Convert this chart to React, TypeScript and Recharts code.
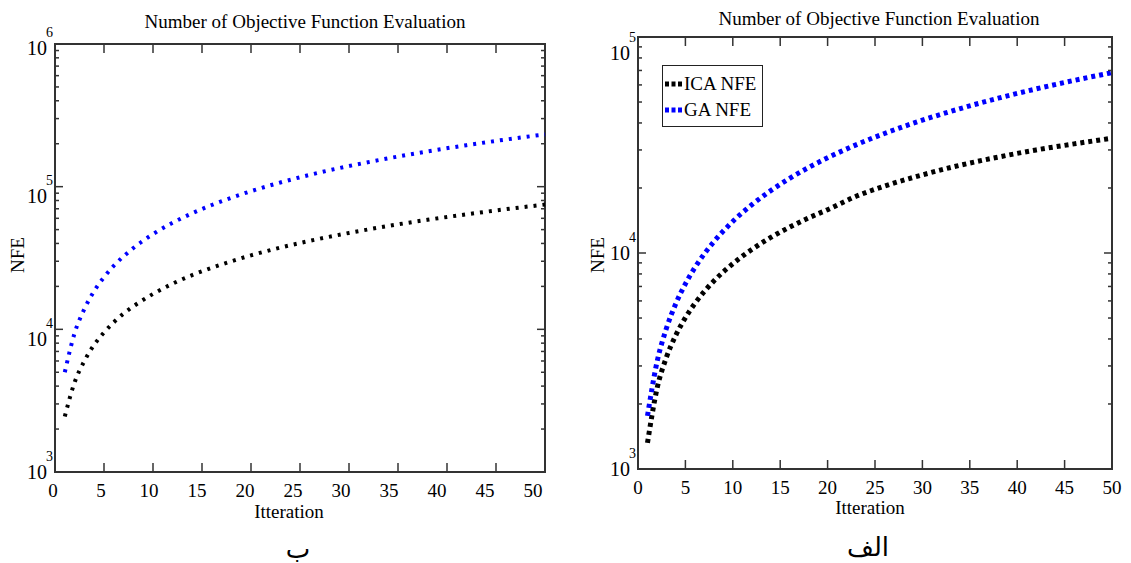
import React from "react";
import { LineChart, Line, XAxis, YAxis, ReferenceArea, Legend } from "recharts";

const FONT = '"Liberation Serif", "Times New Roman", "DejaVu Sans", serif';

const iterations = [1, 2, 3, 4, 5, 6, 7, 8, 10, 12, 14, 16, 18, 20, 23, 26, 30, 34, 38, 42, 46, 50];

// left panel (ب)
const icaNfeB = [2450, 4250, 6000, 7800, 9500, 11200, 12900, 14500, 17700, 20900, 24000, 27000, 30000, 33000, 37400, 41700, 47400, 53000, 58600, 64000, 69500, 74900];
const gaNfeB = [5000, 9400, 13900, 18600, 23200, 27900, 32500, 37200, 46500, 55800, 65100, 74400, 83700, 93000, 107000, 121000, 139500, 158000, 176700, 195300, 214000, 232500];

// right panel (الف)
const icaNfeA = [1320, 2350, 3290, 4170, 5020, 5840, 6640, 7420, 8920, 10380, 11800, 13180, 14540, 15870, 18300, 20400, 23000, 25500, 27800, 30000, 32000, 34000];
const gaNfeA = [1760, 3120, 4480, 5840, 7200, 8560, 9920, 11280, 14000, 16720, 19440, 22160, 24880, 27600, 31680, 35760, 41200, 46640, 52080, 57520, 62960, 68400];

const seriesNames = ["ICA NFE", "GA NFE"];
const xTicks = [0, 5, 10, 15, 20, 25, 30, 35, 40, 45, 50];
const decadesB = [1000, 10000, 100000, 1000000];
const decadesA = [1000, 10000, 100000];
const minorSteps = [2, 3, 4, 5, 6, 7, 8, 9];

const title = "Number of Objective Function Evaluation";

function logTicks(decades: number[]) {
  const out: number[] = [];
  decades.forEach((d, i) => {
    out.push(d);
    if (i < decades.length - 1) minorSteps.forEach((m) => out.push(d * m));
  });
  return out;
}

const dataB = iterations.map((it, i) => ({ iter: it, ica: icaNfeB[i], ga: gaNfeB[i] }));
const dataA = iterations.map((it, i) => ({ iter: it, ica: icaNfeA[i], ga: gaNfeA[i] }));

const FRAME = "#333";
const AXIS_H = 30;
const AXIS_W = 40;

function XTick(props: any) {
  const { x, y, payload, plotH, drift } = props;
  const v = payload.value;
  const inner = v > 0 && v < 50;
  return (
    <g>
      {inner && <line x1={x} y1={y} x2={x} y2={y - 9} stroke={FRAME} strokeWidth={1.5} />}
      {inner && <line x1={x} y1={y - plotH} x2={x} y2={y - plotH + 9} stroke={FRAME} strokeWidth={1.5} />}
      <text x={x + drift(v)} y={y + 25} textAnchor="middle" fontSize={19} fontFamily={FONT} fill="#000">
        {v}
      </text>
    </g>
  );
}

function YTick(props: any) {
  const { x, y, payload, plotW, shift } = props;
  const v = payload.value;
  const lg = Math.log10(v);
  const exp = Math.round(lg);
  const major = Math.abs(lg - exp) < 1e-6;
  const len = major ? 8 : 4;
  const dy = major ? shift[exp] || 0 : 0;
  return (
    <g>
      <line x1={x} y1={y} x2={x + len} y2={y} stroke={FRAME} strokeWidth={1.5} />
      <line x1={x + plotW} y1={y} x2={x + plotW - len} y2={y} stroke={FRAME} strokeWidth={1.5} />
      {major && (
        <text x={x - 8} y={y + dy + 7} textAnchor="end" fontSize={20} fontFamily={FONT} fill="#000">
          10
        </text>
      )}
      {major && (
        <text x={x - 9} y={y + dy - 11} fontSize={14} fontFamily={FONT} fill="#000">
          {exp}
        </text>
      )}
    </g>
  );
}

function NfeLegend(props: any) {
  const items = [...(props.payload || [])].sort(
    (a: any, b: any) => seriesNames.indexOf(a.value) - seriesNames.indexOf(b.value)
  );
  return (
    <div
      style={{
        border: "1.5px solid #222",
        width: 101,
        height: 62,
        background: "#fff",
        boxSizing: "border-box",
        paddingTop: 5,
        paddingLeft: 2,
        fontFamily: FONT,
        fontSize: 19,
        lineHeight: "26px",
        color: "#000",
      }}
    >
      {items.map((it: any) => (
        <div key={it.value} style={{ display: "flex", alignItems: "center", height: 26 }}>
          <svg width={19} height={10}>
            <line x1={0} y1={5} x2={19} y2={5} stroke={it.color} strokeWidth={5} strokeDasharray="4 2.5" />
          </svg>
          <span>{it.value}</span>
        </div>
      ))}
    </div>
  );
}

function Panel(props: any) {
  const { data, decades, width, margin, drift, shift, dash, lineW, withLegend } = props;
  const height = 563;
  const plotLeft = margin.left + AXIS_W;
  const plotW = width - plotLeft - margin.right;
  const plotH = height - margin.top - margin.bottom - AXIS_H;
  const top = decades[decades.length - 1];
  return (
    <LineChart width={width} height={height} data={data} margin={margin}>
      <XAxis
        dataKey="iter"
        type="number"
        domain={[0, 50]}
        ticks={xTicks}
        interval={0}
        height={AXIS_H}
        tickSize={0}
        tickMargin={0}
        axisLine={false}
        tickLine={false}
        tick={(p: any) => <XTick {...p} plotH={plotH} drift={drift} />}
      />
      <YAxis
        scale="log"
        domain={[decades[0], top]}
        allowDataOverflow
        ticks={logTicks(decades)}
        interval={0}
        width={AXIS_W}
        tickSize={0}
        tickMargin={0}
        axisLine={false}
        tickLine={false}
        tick={(p: any) => <YTick {...p} plotW={plotW} shift={shift} />}
      />
      <ReferenceArea x1={0} x2={50} y1={decades[0]} y2={top} fill="none" stroke={FRAME} strokeWidth={2} ifOverflow="visible" />
      {withLegend && (
        <Legend
          layout="vertical"
          align="center"
          verticalAlign="middle"
          content={<NfeLegend />}
          wrapperStyle={{ left: 82, top: 65, width: 101 }}
        />
      )}
      <Line name={seriesNames[0]} dataKey="ica" type="monotone" stroke="#000" strokeWidth={lineW} strokeDasharray={dash} dot={false} isAnimationActive={false} />
      <Line name={seriesNames[1]} dataKey="ga" type="monotone" stroke="#0000ff" strokeWidth={lineW} strokeDasharray={dash} dot={false} isAnimationActive={false} />
    </LineChart>
  );
}

export default function App() {
  return (
    <div style={{ position: "absolute", left: 0, top: 0, width: 1131, height: 563, background: "#fff", overflow: "hidden" }}>
      <div style={{ position: "absolute", left: 0, top: 0 }}>
        <Panel
          data={dataB}
          decades={decadesB}
          width={560}
          margin={{ top: 44, right: 15, bottom: 91 - AXIS_H, left: 55 - AXIS_W }}
          drift={(v: number) => -2 - v * 0.2}
          shift={{ 3: 0, 4: 10, 5: 9, 6: 4 }}
          dash="3 6"
          lineW={4}
          withLegend={false}
        />
      </div>
      <div style={{ position: "absolute", left: 580, top: 0 }}>
        <Panel
          data={dataA}
          decades={decadesA}
          width={551}
          margin={{ top: 37, right: 19, bottom: 94 - AXIS_H, left: 58 - AXIS_W }}
          drift={() => 0}
          shift={{ 3: 0, 4: 0, 5: 16 }}
          dash="4 4"
          lineW={5}
          withLegend={true}
        />
      </div>
      <svg width={1131} height={563} style={{ position: "absolute", left: 0, top: 0, pointerEvents: "none" }} fontFamily={FONT}>
        <text x={305} y={28} textAnchor="middle" fontSize={19}>{title}</text>
        <text x={879} y={25} textAnchor="middle" fontSize={19}>{title}</text>
        <text x={289} y={518} textAnchor="middle" fontSize={19}>Itteration</text>
        <text x={870} y={514} textAnchor="middle" fontSize={19}>Itteration</text>
        <text x={24} y={255} textAnchor="middle" fontSize={19} transform="rotate(-90 24 255)">NFE</text>
        <text x={604} y={255} textAnchor="middle" fontSize={19} transform="rotate(-90 604 255)">NFE</text>
        <text x={298} y={558} textAnchor="middle" fontSize={26}>ب</text>
        <text x={868} y={556} textAnchor="middle" fontSize={26}>الف</text>
      </svg>
    </div>
  );
}
